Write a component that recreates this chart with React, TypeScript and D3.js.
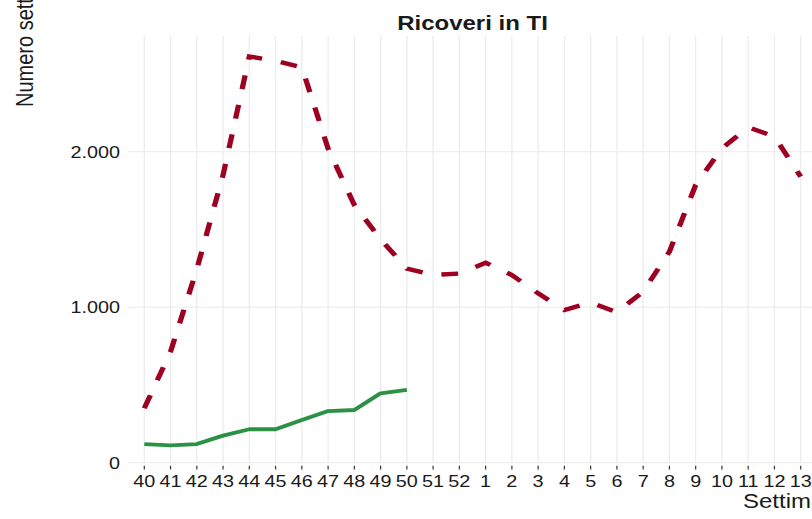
import React from "react";
import * as d3 from "d3";

// settimane (40-52 del primo anno, poi 1-13)
const weeks = ["40", "41", "42", "43", "44", "45", "46", "47", "48", "49", "50", "51", "52",
  "1", "2", "3", "4", "5", "6", "7", "8", "9", "10", "11", "12", "13"];

// ricoveri in TI, stagione precedente (linea tratteggiata)
const ricoveriPrec = [350, 714, 1244, 1850, 2612, 2585, 2543, 2020, 1657, 1437, 1248, 1207, 1216,
  1286, 1207, 1089, 982, 1031, 967, 1100, 1357, 1786, 2022, 2157, 2097, 1840];

// ricoveri in TI, stagione corrente (fino alla settimana 50)
const ricoveriCorr = [120, 112, 120, 174, 215, 215, 275, 332, 339, 446, 468];

const yTicks = [0, 1000, 2000];

const itFormat = d3.formatLocale({ decimal: ",", thousands: ".", grouping: [3], currency: ["€", ""] }).format(",");

// the reference is stretched horizontally, so draw in a narrower box and let the viewBox stretch it
const S = 1.2;
const W = 812 / S;
const H = 519;
const font = "'Liberation Sans', Arial, sans-serif";

export default function App() {
  const x = d3.scalePoint<string>().domain(weeks).range([144.3 / S, 800.7 / S]);
  const y = d3.scaleLinear().domain([0, 2744]).range([462.7, 36]);
  const panelLeft = 128 / S;

  const line = d3.line<number>()
    .x((d, i) => x(weeks[i]) as number)
    .y((d) => y(d));

  return (
    <svg
      width={812}
      height={H}
      viewBox={`0 0 ${W} ${H}`}
      preserveAspectRatio="none"
      style={{ position: "absolute", left: 0, top: 0, background: "#fff" }}
    >
      {/* griglia */}
      {weeks.map((w) => (
        <line key={"v" + w} x1={x(w)} x2={x(w)} y1={y.range()[1]} y2={y(0)} stroke="#ebebeb" strokeWidth={1} />
      ))}
      {yTicks.map((t) => (
        <line key={"h" + t} x1={panelLeft} x2={W} y1={y(t)} y2={y(t)} stroke="#ebebeb" strokeWidth={1} />
      ))}

      {/* serie */}
      <path d={line(ricoveriPrec) || ""} fill="none" stroke="#9e0022" strokeWidth={4.4} strokeDasharray="14,16" />
      <path d={line(ricoveriCorr) || ""} fill="none" stroke="#2a9145" strokeWidth={3.8} strokeLinejoin="round" />

      {/* asse x */}
      {weeks.map((w) => (
        <g key={"t" + w}>
          <line x1={x(w)} x2={x(w)} y1={465.8} y2={469.5} stroke="#333" strokeWidth={1} />
          <text x={x(w)} y={487} textAnchor="middle" fontFamily={font} fontSize={16.5} fill="#1a1a1a">{w}</text>
        </g>
      ))}
      {/* asse y */}
      {yTicks.map((t) => (
        <text key={"yl" + t} x={120 / S} y={y(t) + 6} textAnchor="end" fontFamily={font} fontSize={16.5} fill="#1a1a1a">
          {itFormat(t)}
        </text>
      ))}

      <text x={(128 + 817) / 2 / S} y={30.5} textAnchor="middle" fontFamily={font} fontSize={20} fontWeight="bold" fill="#1a1a1a">
        Ricoveri in TI
      </text>
      <text transform={`translate(${33 / S},107) rotate(-90)`} textAnchor="start" fontFamily={font} fontSize={20} fill="#1a1a1a">
        Numero settimanale di ricoveri
      </text>
      <text x={743 / S} y={508} textAnchor="start" fontFamily={font} fontSize={20} fill="#1a1a1a">
        Settimana
      </text>
    </svg>
  );
}
